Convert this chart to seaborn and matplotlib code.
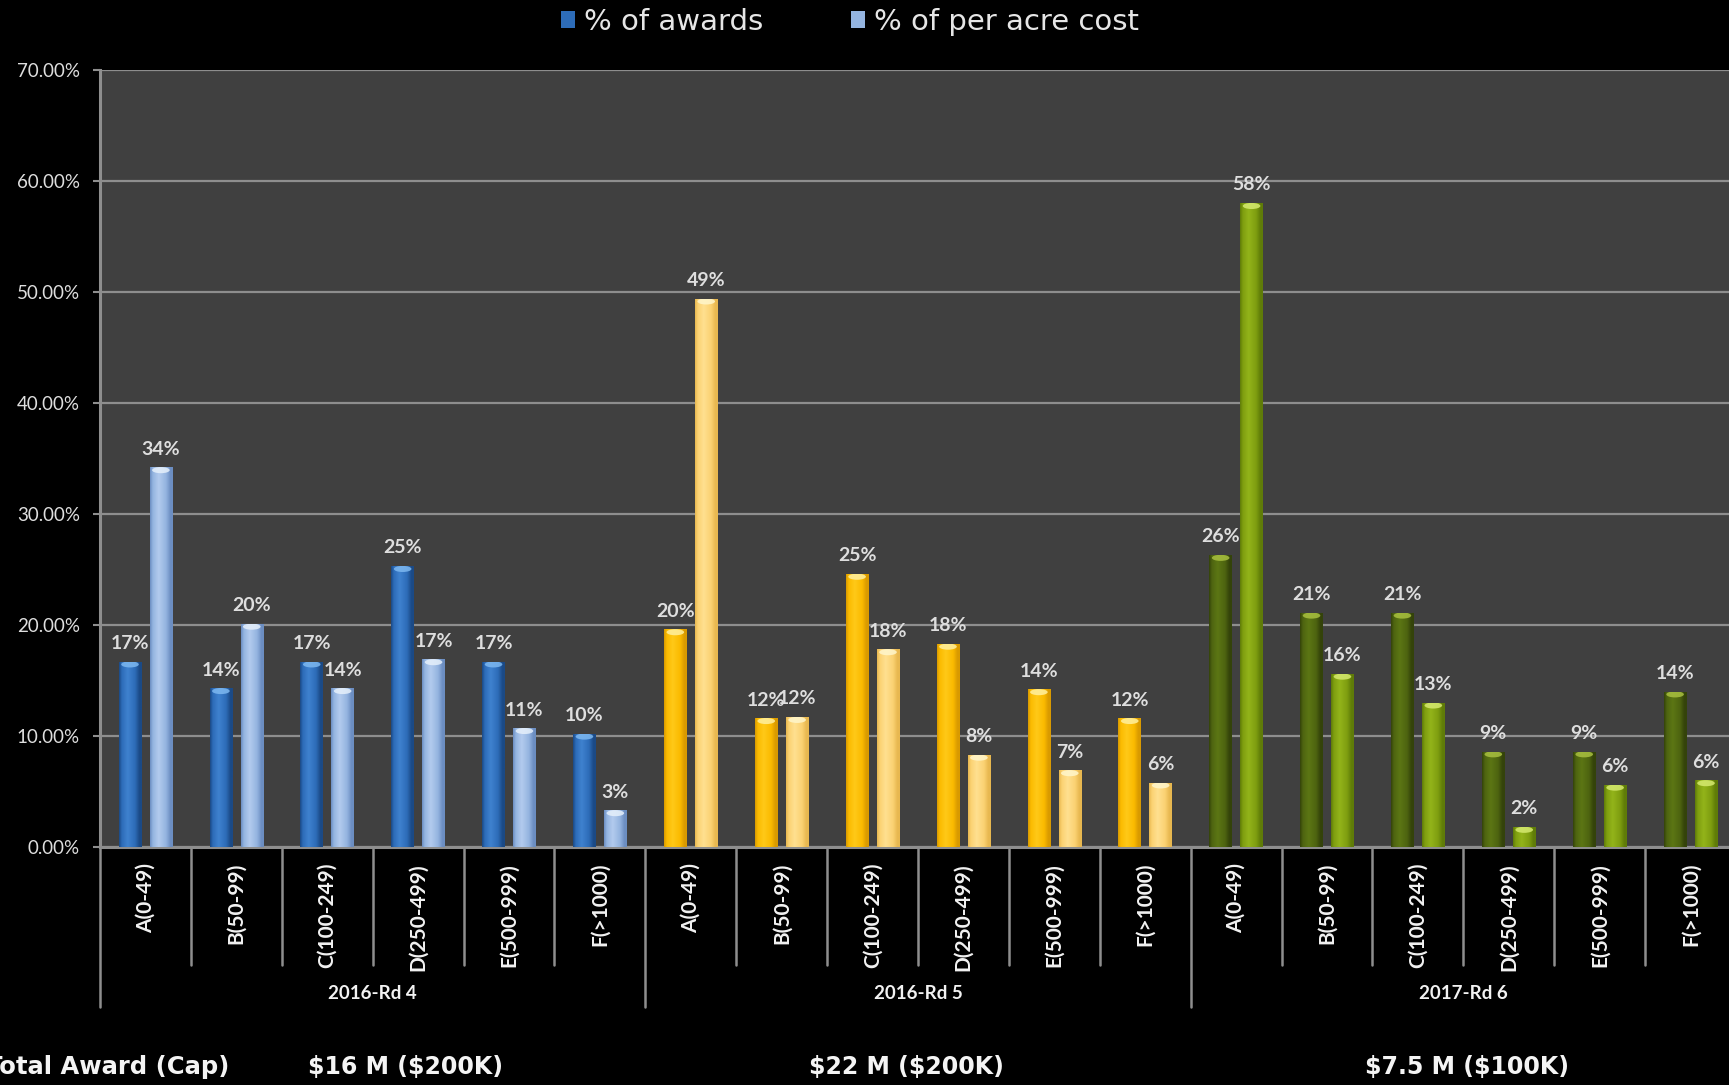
import numpy as np
import pandas as pd
import matplotlib
matplotlib.use("Agg")
import matplotlib.pyplot as plt
import matplotlib.transforms as mtransforms
from matplotlib.colors import to_rgb
from matplotlib.patches import Patch, Ellipse
import seaborn as sns

# ---- data -------------------------------------------------------------
rounds = ["2016-Rd 4", "2016-Rd 5", "2017-Rd 6"]
sizes = ["A(0-49)", "B(50-99)", "C(100-249)", "D(250-499)", "E(500-999)", "F(>1000)"]
series = ["% of awards", "% of per acre cost"]

awards_rd4 = [16.7, 14.3, 16.7, 25.3, 16.7, 10.2]
per_acre_rd4 = [34.2, 20.1, 14.3, 16.9, 10.7, 3.3]
awards_rd5 = [19.6, 11.6, 24.6, 18.3, 14.2, 11.6]
per_acre_rd5 = [49.4, 11.7, 17.8, 8.3, 6.9, 5.8]
awards_rd6 = [26.3, 21.1, 21.1, 8.6, 8.6, 14.0]
per_acre_rd6 = [58.0, 15.6, 13.0, 1.8, 5.6, 6.0]

total_label = "Total Award (Cap)"
totals = ["$16 M ($200K)", "$22 M ($200K)", "$7.5 M ($100K)"]

yticks = [0, 10, 20, 30, 40, 50, 60, 70]

# ---- styling ----------------------------------------------------------
# per round: (awards shades, per-acre shades) as (edge, body, highlight, cap)
shades = {
    "2016-Rd 4": (("#1b4a86", "#2d6cb8", "#3f82cf", "#7db8f0"),
                  ("#6c8ec2", "#94b4e0", "#b3cbee", "#e6f0fb")),
    "2016-Rd 5": (("#d99a00", "#fbbb00", "#ffc918", "#fff0a0"),
                  ("#e8b850", "#fbd272", "#ffe090", "#fff6cc")),
    "2017-Rd 6": (("#34430a", "#4e6410", "#5c7614", "#a9c040"),
                  ("#5f7c08", "#7f9e10", "#93b41a", "#d6ea70")),
}
fig_bg = "#000000"
plot_bg = "#404040"
grid_col = "#8e8e8e"
text_col = "#dedede"

sns.set_theme(style="dark")
plt.rcParams["font.family"] = ["Lato", "DejaVu Sans"]

# ---- long table for seaborn -------------------------------------------
awards = [awards_rd4, awards_rd5, awards_rd6]
per_acre = [per_acre_rd4, per_acre_rd5, per_acre_rd6]
rows = []
keys = []
for r, rd in enumerate(rounds):
    for s, sz in enumerate(sizes):
        key = f"{rd} {sz}"
        keys.append(key)
        rows.append({"key": key, "round": rd, "size": sz,
                     "series": series[0], "value": awards[r][s]})
        rows.append({"key": key, "round": rd, "size": sz,
                     "series": series[1], "value": per_acre[r][s]})
df = pd.DataFrame(rows)

W, H = 1729, 1085
fig = plt.figure(figsize=(W / 100, H / 100), dpi=100, facecolor=fig_bg)
ax = fig.add_axes([100 / W, 238 / H, 1636 / W, 777 / H])
ax.set_facecolor(plot_bg)

palette = {series[0]: shades["2016-Rd 4"][0][1], series[1]: shades["2016-Rd 4"][1][1]}
sns.barplot(data=df, x="key", y="value", hue="series", order=keys,
            hue_order=series, palette=palette, width=0.68, gap=0.27,
            errorbar=None, saturation=1, ax=ax, zorder=3, linewidth=0)
if ax.get_legend() is not None:
    ax.get_legend().remove()


def profile(edge, body, light, n=64):
    t = np.linspace(0, 1, n)
    stops = [0.0, 0.12, 0.38, 0.7, 0.9, 1.0]
    cols = [to_rgb(edge), to_rgb(body), to_rgb(light),
            to_rgb(body), to_rgb(edge), to_rgb(edge)]
    arr = np.zeros((1, n, 3))
    for c in range(3):
        arr[0, :, c] = np.interp(t, stops, [col[c] for col in cols])
    return arr


# cylinder-like shading for each bar, coloured by round
for si, container in enumerate(ax.containers[:2]):
    for i, bar in enumerate(container.patches):
        rd = rounds[i // len(sizes)]
        edge, body, light, cap = shades[rd][si]
        bar.set_facecolor(body)
        x0, w, h = bar.get_x(), bar.get_width(), bar.get_height()
        im = ax.imshow(profile(edge, body, light), extent=[x0, x0 + w, 0, h],
                       aspect="auto", interpolation="bilinear", zorder=3.5)
        im.set_clip_path(bar)
        ell = Ellipse((x0 + w / 2, h - 0.25), w * 0.78, 0.55,
                      facecolor=cap, edgecolor="none", alpha=0.85, zorder=3.6)
        ax.add_patch(ell)
        ell.set_clip_path(bar)

# value labels
for si, container in enumerate(ax.containers[:2]):
    vals = [b.get_height() for b in container.patches]
    ax.bar_label(container, labels=[f"{round(v):.0f}%" for v in vals],
                 padding=7, color=text_col, fontsize=14, fontweight="bold",
                 zorder=5)

ax.set_xlim(-0.5, len(keys) - 0.5)
ax.set_ylim(0, 70)
ax.set_yticks(yticks)
ax.set_yticklabels([f"{v:.2f}%" for v in yticks])
ax.set_xticks(range(len(keys)))
ax.set_xticklabels([sizes[i % len(sizes)] for i in range(len(keys))],
                   rotation=90, fontsize=15, fontweight="bold", color="#f2f2f2",
                   va="top", ha="center")
ax.tick_params(axis="x", length=0, pad=11.5)
ax.tick_params(axis="y", length=5, width=1.5, color=grid_col, pad=9.5,
               labelsize=13.5, labelcolor=text_col, left=True)
ax.set_xlabel("")
ax.set_ylabel("")
ax.grid(False)
ax.yaxis.grid(True, color=grid_col, linewidth=1.6, zorder=1)
ax.set_axisbelow(True)
for side in ["top", "right"]:
    ax.spines[side].set_visible(False)
for side in ["left", "bottom"]:
    ax.spines[side].set_visible(True)
    ax.spines[side].set_color(grid_col)
    ax.spines[side].set_linewidth(2.2)

# category separators and round separators below the axis
trans = mtransforms.blended_transform_factory(ax.transData, ax.transAxes)
n = len(sizes)
for k in range(len(keys) + 1):
    xb = k - 0.5
    low = -0.206 if k % n == 0 else -0.152
    ax.plot([xb, xb], [0, low], transform=trans, color=grid_col,
            linewidth=1.8, clip_on=False, zorder=2)

for r, rd in enumerate(rounds):
    ax.text(r * n + (n - 1) / 2, -0.188, rd, transform=trans, ha="center",
            va="center", fontsize=13.5, fontweight="bold", color="#f2f2f2")

# totals row
foot_y = 1 - 1067 / H
fig.text(229 / W, foot_y, total_label, ha="right", va="center",
         fontsize=17.5, fontweight="bold", color="#f4f4f4",
         family=["DejaVu Sans"], parse_math=False)
for xpx, t in zip([405, 906, 1467], totals):
    fig.text(xpx / W, foot_y, t, ha="center", va="center",
             fontsize=17, fontweight="bold", color="#f4f4f4",
             family=["DejaVu Sans"], parse_math=False)

# legend
handles = [Patch(facecolor=shades["2016-Rd 4"][0][1], edgecolor="none"),
           Patch(facecolor=shades["2016-Rd 4"][1][1], edgecolor="none")]
leg = fig.legend(handles, series, loc="center", bbox_to_anchor=(850 / W, 1 - 22 / H),
                 ncol=2, frameon=False, handlelength=0.5, handleheight=0.5,
                 handletextpad=0.3, columnspacing=3.0,
                 prop={"family": "DejaVu Sans", "size": 21})
for t in leg.get_texts():
    t.set_color("#e6e6e6")

fig.savefig("out.png", dpi=100, facecolor=fig_bg)
